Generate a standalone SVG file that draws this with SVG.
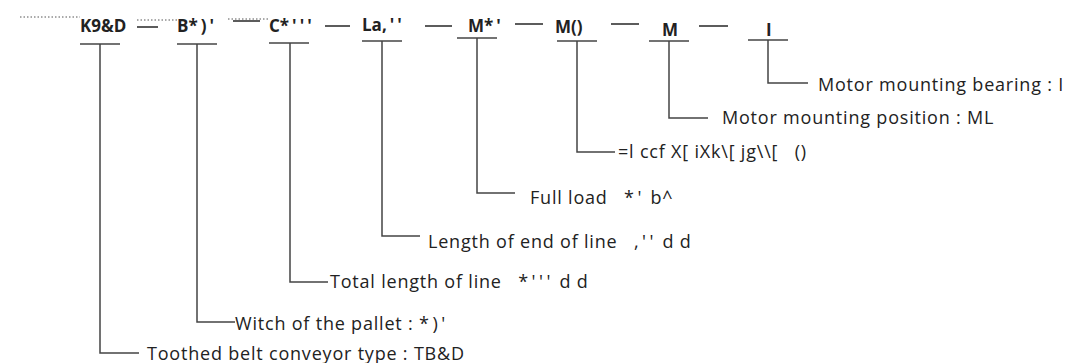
<svg xmlns="http://www.w3.org/2000/svg" width="1080" height="363" viewBox="0 0 1080 363">
<style>
.code{font-family:"Open Sans","Noto Sans",sans-serif;font-size:17px;font-weight:bold;fill:#222}
.lbl{font-family:"Open Sans","Noto Sans",sans-serif;font-size:18px;letter-spacing:0.8px;fill:#222}
.sp{letter-spacing:3.5px}
.csp{letter-spacing:3px}
.ln{stroke:#444;stroke-width:1.5;fill:none}
.ul{stroke:#444;stroke-width:1.5}
.dash{stroke:#333;stroke-width:1.6}
.dot{stroke:#555;stroke-width:1;stroke-dasharray:1.5 2;fill:none}
</style>
<rect width="1080" height="363" fill="#fff"/>
<g id="header">
<line class="dot" x1="20" y1="17" x2="80" y2="17"/>
<line class="dot" x1="137" y1="20" x2="177" y2="20"/>
<line class="dot" x1="228" y1="19" x2="270" y2="19"/>
<line class="dash" x1="137" y1="27" x2="158" y2="27"/>
<line class="dash" x1="233" y1="21" x2="260" y2="21"/>
<line class="dash" x1="325" y1="26" x2="350" y2="26"/>
<line class="dash" x1="425" y1="26" x2="452" y2="26"/>
<line class="dash" x1="515" y1="24" x2="543" y2="24"/>
<line class="dash" x1="611" y1="24" x2="639" y2="24"/>
<line class="dash" x1="699" y1="26" x2="728" y2="26"/>
</g>
<g id="connectors">
<path class="ln" d="M100 44 V353 H139"/>
<path class="ln" d="M197 44 V322 H235"/>
<path class="ln" d="M290 43 V282 H328"/>
<path class="ln" d="M382 41 V236 H420"/>
<path class="ln" d="M477 38 V193 H515"/>
<path class="ln" d="M577 41 V152 H615"/>
<path class="ln" d="M669 41 V118 H708"/>
<path class="ln" d="M768 40 V83 H808"/>
</g>
<g id="n1"><text class="code" x="80" y="32">K9&amp;D</text><line class="ul" x1="80" y1="44" x2="120" y2="44"/><text class="lbl" x="147" y="360">Toothed belt conveyor type : TB&amp;D</text></g>
<g id="n2"><text class="code" x="177" y="32">B<tspan class="csp">*)</tspan>'</text><line class="ul" x1="177" y1="44" x2="217" y2="44"/><text class="lbl" x="235" y="330">Witch of the pallet : <tspan class="sp">*)</tspan>'</text></g>
<g id="n3"><text class="code" x="269" y="32">C<tspan class="csp">*'''</tspan></text><line class="ul" x1="269" y1="43" x2="309" y2="43"/><text class="lbl" x="330" y="288" xml:space="preserve">Total length of line   <tspan class="sp">*'''</tspan> d d</text></g>
<g id="n4"><text class="code" x="362" y="31">La<tspan class="csp">,''</tspan></text><line class="ul" x1="362" y1="41" x2="402" y2="41"/><text class="lbl" x="428" y="248" xml:space="preserve">Length of end of line   <tspan class="sp">,''</tspan> d d</text></g>
<g id="n5"><text class="code" x="468" y="32">M<tspan class="csp">*'</tspan></text><line class="ul" x1="457" y1="38" x2="497" y2="38"/><text class="lbl" x="530" y="204" xml:space="preserve">Full load   <tspan class="sp">*'</tspan> b^</text></g>
<g id="n6"><text class="code" x="555" y="33">M()</text><line class="ul" x1="557" y1="41" x2="597" y2="41"/><text class="lbl" x="618" y="158" xml:space="preserve">=l ccf X[ iXk\[ jg\\[   ()</text></g>
<g id="n7"><text class="code" x="662" y="36">M</text><line class="ul" x1="649" y1="41" x2="689" y2="41"/><text class="lbl" x="722" y="124">Motor mounting position : ML</text></g>
<g id="n8"><text class="code" x="766" y="36">I</text><line class="ul" x1="748" y1="40" x2="788" y2="40"/><text class="lbl" x="818" y="91">Motor mounting bearing : I</text></g>
</svg>
